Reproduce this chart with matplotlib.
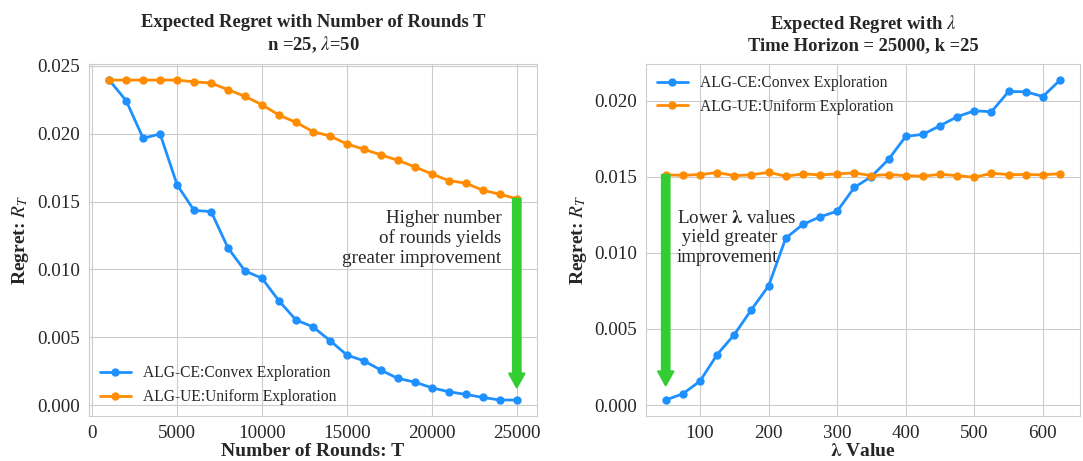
import matplotlib
matplotlib.use("Agg")
import matplotlib.pyplot as plt
import seaborn as sns

# data
rounds = list(range(1000, 26000, 1000))
rounds_ce = [0.02395, 0.02243, 0.01966, 0.01998, 0.01623, 0.01434, 0.01426, 0.01157,
             0.00988, 0.00934, 0.00767, 0.00627, 0.00576, 0.00475, 0.00368, 0.00326,
             0.00257, 0.00196, 0.00169, 0.00127, 0.00098, 0.00078, 0.00056, 0.00037,
             0.00037]
rounds_ue = [0.02395, 0.02395, 0.02395, 0.02395, 0.02395, 0.02382, 0.02373, 0.02324,
             0.02275, 0.02213, 0.02137, 0.02083, 0.02015, 0.01983, 0.01924, 0.01885,
             0.01843, 0.01804, 0.01755, 0.01703, 0.01654, 0.01635, 0.01583, 0.01554,
             0.0152]

lambdas = list(range(50, 650, 25))
lambda_ce = [0.00033, 0.00074, 0.00157, 0.00332, 0.00463, 0.00627, 0.00783, 0.01097,
             0.01187, 0.01237, 0.01274, 0.01430, 0.01502, 0.01615, 0.01766, 0.01779,
             0.01836, 0.01895, 0.01934, 0.01928, 0.02061, 0.02059, 0.02028, 0.02136]
lambda_ue = [0.01513, 0.01510, 0.01515, 0.01528, 0.01508, 0.01513, 0.01530, 0.01504,
             0.01519, 0.01513, 0.01519, 0.01526, 0.01508, 0.01515, 0.01508, 0.01504,
             0.01517, 0.01508, 0.01497, 0.01523, 0.01515, 0.01515, 0.01513, 0.01521]

label_ce = "ALG-CE:Convex Exploration"
label_ue = "ALG-UE:Uniform Exploration"

sns.set_style("whitegrid")
plt.rcParams['font.family'] = ['Liberation Serif', 'DejaVu Serif']
plt.rcParams['mathtext.fontset'] = 'stix'

fig = plt.figure(figsize=(10.83, 4.61), dpi=100)
ax1 = fig.add_axes([0.082, 0.0976, 0.414, 0.7634])
ax2 = fig.add_axes([0.5965, 0.0976, 0.4005, 0.7634])

blue = "#1E90FF"
orange = "#FF8C00"
green = "#32CD32"
arrow = dict(facecolor=green, edgecolor=green, width=5.5, headwidth=11, headlength=10,
             linewidth=1.5, joinstyle="round")

# left: regret vs number of rounds
ax1.plot(rounds, rounds_ce, "o-", color=blue, markersize=5, linewidth=2, label=label_ce)
ax1.plot(rounds, rounds_ue, "o-", color=orange, markersize=5, linewidth=2, label=label_ue)
ax1.annotate("", xy=(rounds[-1], 0.0013), xytext=(rounds[-1], rounds_ue[-1]),
             arrowprops=arrow)
ax1.text(24100, 0.0123, "Higher number\nof rounds yields\ngreater improvement",
         ha="right", va="center", multialignment="right", fontsize=13.7)
ax1.set_title("Expected Regret with Number of Rounds T\nn =25, $\\lambda$=50",
              fontsize=13.4, fontweight="bold", pad=10)
ax1.set_xlabel("Number of Rounds: T", fontsize=14, fontweight="bold", labelpad=1)
ax1.set_ylabel("Regret: $\\boldsymbol{R_T}$", fontsize=14, fontweight="bold")
ax1.legend(loc="lower left", frameon=False, fontsize=11.2, borderaxespad=0.3)

# right: regret vs lambda
ax2.plot(lambdas, lambda_ce, "o-", color=blue, markersize=5, linewidth=2, label=label_ce)
ax2.plot(lambdas, lambda_ue, "o-", color=orange, markersize=5, linewidth=2, label=label_ue)
ax2.annotate("", xy=(lambdas[0], 0.0013), xytext=(lambdas[0], lambda_ue[0]),
             arrowprops=arrow)
ax2.text(66, 0.0110, "Lower $\\boldsymbol{\\lambda}$ values\n yield greater\nimprovement",
         ha="left", va="center", multialignment="left", fontsize=13.7)
ax2.set_title("Expected Regret with $\\lambda$\nTime Horizon = 25000, k =25",
              fontsize=13.4, fontweight="bold", pad=10)
ax2.set_xlabel("$\\boldsymbol{\\lambda}$ Value", fontsize=14, fontweight="bold", labelpad=1)
ax2.set_ylabel("Regret: $\\boldsymbol{R_T}$", fontsize=14, fontweight="bold")
ax2.legend(loc="upper left", frameon=False, fontsize=11.2, borderaxespad=0.3)

for ax in (ax1, ax2):
    ax.tick_params(labelsize=13.7, pad=3)
    ax.yaxis.set_major_formatter(matplotlib.ticker.FormatStrFormatter("%.3f"))
    for s in ax.spines.values():
        s.set_color("#cccccc")

fig.savefig("out.png", dpi=100)
